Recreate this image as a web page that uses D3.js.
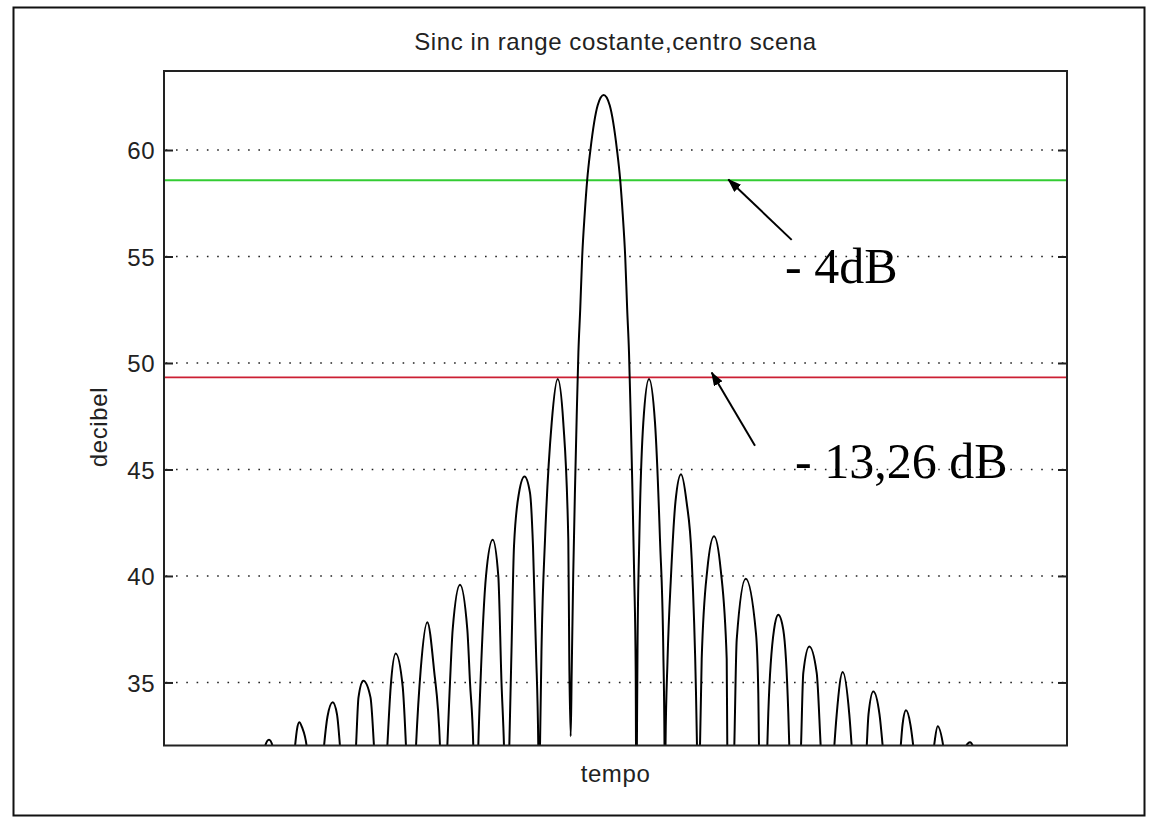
<!DOCTYPE html>
<html>
<head>
<meta charset="utf-8">
<script src="https://cdn.jsdelivr.net/npm/d3@7"></script>
<style>
  html, body { margin: 0; padding: 0; background: #fff; }
  svg { display: block; }
</style>
</head>
<body>
<svg id="chart" width="1158" height="832"></svg>
<script>
// ---------------- DATA ----------------
const titleText = "Sinc in range costante,centro scena";
const xLabel = "tempo";
const yLabel = "decibel";
const yTicks = [35, 40, 45, 50, 55, 60];
const xDomain = [0, 903];          // tempo, samples
const yDomain = [32.04, 63.71];    // decibel

// sinc amplitude in dB: sample position (tempo) and level (decibel)
const curveT = [
  95, 101, 105, 108.7,
  120, 131, 133, 135.3, 138, 142.7,
  151.5, 160, 163.5, 168.7, 173, 176,
  184, 192, 194.5, 199.3, 206.5, 210,
  216.5, 223.3, 226.7, 231.7, 238.7, 242,
  247, 252, 256.7, 263.3, 270, 276,
  279.7, 283.3, 286, 288.7, 296, 303.3, 306, 309.3,
  311.8, 314.3, 316.5, 322, 328.7, 334.3, 337.5, 340,
  342.7, 345.3, 347.5, 350, 355, 360.5, 366, 369, 372, 374.3,
  375.2, 376, 377.7, 381, 387.7, 393.7, 399.3, 404.3, 405.3,
  406.7,
  407.7, 409.2, 411.2, 412.7, 414.4, 416.2, 418.2, 420.7, 423.2, 426.4, 433.7, 439.7,
  445.7, 453, 456.2, 458.7, 461.2, 463.2, 465, 466.7, 468.2, 470.2, 471.7,
  472.4, 472.9, 473.5, 475.3, 479.3, 485, 491, 496, 499.3, 500.5,
  501, 501.5, 503.5, 507, 511.5, 517, 522.5, 527.7, 532, 533,
  534.5, 536, 537.7, 543.3, 550, 556.7, 562.7, 563.3,
  566.8, 570.3, 572.7, 581.7, 592, 594.3, 595,
  599, 603.3, 604.3, 610, 614.3, 619.3, 624.3, 625.3,
  631, 637, 639.3, 645.3, 652.7, 656.7,
  663.5, 670.3, 672.7, 678.7, 685.3, 687.7,
  695, 702.7, 704.5, 709.3, 715.5, 718.7,
  727.7, 736.7, 738.5, 742, 746.5, 749.3,
  759.5, 770, 773.7, 779.3,
  790.5, 802, 806, 809,
  818
];
const curveDb = [
  26, 32, 32.31, 32,
  26, 32, 32.8, 33.13, 32.9, 32,
  26, 32, 33.4, 34.07, 33.5, 32,
  26, 32, 34.3, 35.08, 34.3, 32,
  26, 32, 34.8, 36.36, 34.8, 32,
  26, 32, 35.6, 37.83, 35.6, 32,
  26, 32, 35.0, 37.5, 39.59, 37.5, 35.0, 32,
  26, 32, 35.0, 40.0, 41.70, 40.0, 35.0, 32,
  26, 32, 36.5, 41.4, 43.9, 44.67, 43.9, 41.4, 36.5, 32,
  28, 32, 37.0, 41.7, 47.2, 49.25, 47.2, 41.7, 36.0,
  32.47,
  35.5, 40.0, 44.5, 47.5, 50.5, 52.5, 55.0, 57.0, 58.6, 60.0, 62.1, 62.58,
  62.1, 60.0, 58.6, 57.0, 55.0, 52.5, 50.5, 47.5, 44.5, 40.0, 35.5,
  28, 32, 36.5, 41.7, 47.2, 49.25, 47.2, 41.7, 36.5, 32,
  27, 32, 36.0, 40.0, 43.5, 44.78, 43.5, 40.8, 34.5, 32,
  27, 32, 36.1, 40.3, 41.87, 40.3, 36.1, 32,
  26, 32, 37.0, 39.87, 37.3, 34.5, 32,
  26, 32, 33.56, 37.47, 38.18, 37.47, 33.56, 32,
  26, 32, 35.45, 36.69, 35.45, 32,
  26, 32, 33.5, 35.49, 33.5, 32,
  26, 32, 33.5, 34.58, 33.5, 32,
  26, 32, 33.0, 33.69, 33.0, 32,
  26, 32, 32.94, 32,
  26, 32, 32.19, 32,
  26
];

// reference levels (peak -4 dB and peak -13,26 dB)
const refDb = [58.58, 49.32];
const refLabels = ["- 4dB", "- 13,26 dB"];

// ---------------- LAYOUT / STYLE ----------------
const W = 1158, H = 832;
const plot = { left: 164, right: 1067, top: 71, bottom: 745.5 };
const refColors = ["#33cc33", "#cc1f33"];
// annotation placement in data units (label anchor, arrow start, arrow tip)
const annot = [
  { label: [621, 53.74], from: [627.7, 55.78], to: [564.3, 58.62] },
  { label: [631, 44.61], from: [591, 46.11], to: [547.7, 49.55] }
];

const svg = d3.select("#chart");
svg.append("rect").attr("width", W).attr("height", H).attr("fill", "#fff");

// outer figure border
svg.append("rect")
  .attr("x", 13.5).attr("y", 7.5).attr("width", 1131).attr("height", 808)
  .attr("fill", "none").attr("stroke", "#111").attr("stroke-width", 2);

const x = d3.scaleLinear().domain(xDomain).range([plot.left, plot.right]);
const y = d3.scaleLinear().domain(yDomain).range([plot.bottom, plot.top]);

const defs = svg.append("defs");
defs.append("clipPath").attr("id", "clip")
  .append("rect")
  .attr("x", plot.left).attr("y", plot.top)
  .attr("width", plot.right - plot.left).attr("height", plot.bottom - plot.top);

defs.append("marker")
  .attr("id", "arrowhead")
  .attr("viewBox", "0 0 14 10")
  .attr("refX", 13).attr("refY", 5)
  .attr("markerWidth", 14).attr("markerHeight", 10)
  .attr("markerUnits", "userSpaceOnUse")
  .attr("orient", "auto")
  .append("path").attr("d", "M0,0 L14,5 L0,10 Z").attr("fill", "#000");

// grid lines (dotted)
svg.append("g")
  .selectAll("line")
  .data(yTicks)
  .join("line")
  .attr("x1", plot.left).attr("x2", plot.right)
  .attr("y1", d => y(d)).attr("y2", d => y(d))
  .attr("stroke", "#222")
  .attr("stroke-width", 1.6)
  .attr("stroke-dasharray", "1.6 8.7")
  .attr("stroke-dashoffset", -12);

// reference lines
svg.append("g")
  .selectAll("line")
  .data(refDb)
  .join("line")
  .attr("x1", plot.left).attr("x2", plot.right)
  .attr("y1", d => y(d)).attr("y2", d => y(d))
  .attr("stroke", (d, i) => refColors[i])
  .attr("stroke-width", 1.8);

// sinc curve
const pts = curveT.map((t, i) => [t, curveDb[i]]);
const line = d3.line()
  .x(d => x(d[0]))
  .y(d => y(d[1]))
  .curve(d3.curveMonotoneX);

svg.append("path")
  .attr("clip-path", "url(#clip)")
  .attr("d", line(pts))
  .attr("fill", "none")
  .attr("stroke", "#000")
  .attr("stroke-width", 2)
  .attr("stroke-linejoin", "round");

// axes
const fontSans = "'Liberation Sans', Arial, Helvetica, sans-serif";
const yAxisL = d3.axisLeft(y).tickValues(yTicks).tickSize(-9).tickPadding(9)
  .tickFormat(d3.format("d"));
const gL = svg.append("g").attr("transform", `translate(${plot.left},0)`).call(yAxisL);
gL.select(".domain").remove();
gL.selectAll(".tick line").attr("stroke", "#222").attr("stroke-width", 2);
gL.selectAll(".tick text")
  .attr("font-family", fontSans).attr("font-size", 24).attr("fill", "#222")
  .attr("letter-spacing", 0.5)
  .attr("dy", "0.36em");

const yAxisR = d3.axisRight(y).tickValues(yTicks).tickSize(-9).tickFormat("");
const gR = svg.append("g").attr("transform", `translate(${plot.right},0)`).call(yAxisR);
gR.select(".domain").remove();
gR.selectAll(".tick line").attr("stroke", "#222").attr("stroke-width", 2);

const xAxis = d3.axisBottom(x).tickValues([]).tickSize(0);
const gX = svg.append("g").attr("transform", `translate(0,${plot.bottom})`).call(xAxis);
gX.select(".domain").remove();

// plot frame
svg.append("rect")
  .attr("x", plot.left).attr("y", plot.top)
  .attr("width", plot.right - plot.left).attr("height", plot.bottom - plot.top)
  .attr("fill", "none").attr("stroke", "#222").attr("stroke-width", 2);

// title and labels
svg.append("text")
  .attr("x", (plot.left + plot.right) / 2).attr("y", 50)
  .attr("text-anchor", "middle")
  .attr("font-family", fontSans).attr("font-size", 24).attr("fill", "#222")
  .attr("letter-spacing", 0.6)
  .text(titleText);

svg.append("text")
  .attr("x", (plot.left + plot.right) / 2).attr("y", 782)
  .attr("text-anchor", "middle")
  .attr("font-family", fontSans).attr("font-size", 24).attr("fill", "#222")
  .attr("letter-spacing", 0.6)
  .text(xLabel);

svg.append("text")
  .attr("transform", "translate(107,427) rotate(-90)")
  .attr("text-anchor", "middle")
  .attr("font-family", fontSans).attr("font-size", 24).attr("fill", "#222")
  .attr("letter-spacing", 0.6)
  .text(yLabel);

// annotations
const fontSerif = "'Liberation Serif', 'Times New Roman', serif";
annot.forEach((a, i) => {
  svg.append("line")
    .attr("x1", x(a.from[0])).attr("y1", y(a.from[1]))
    .attr("x2", x(a.to[0])).attr("y2", y(a.to[1]))
    .attr("stroke", "#000").attr("stroke-width", 2)
    .attr("marker-end", "url(#arrowhead)");
  svg.append("text")
    .attr("x", x(a.label[0])).attr("y", y(a.label[1]))
    .attr("font-family", fontSerif).attr("font-size", 50).attr("fill", "#000")
    .text(refLabels[i]);
});
</script>
</body>
</html>
